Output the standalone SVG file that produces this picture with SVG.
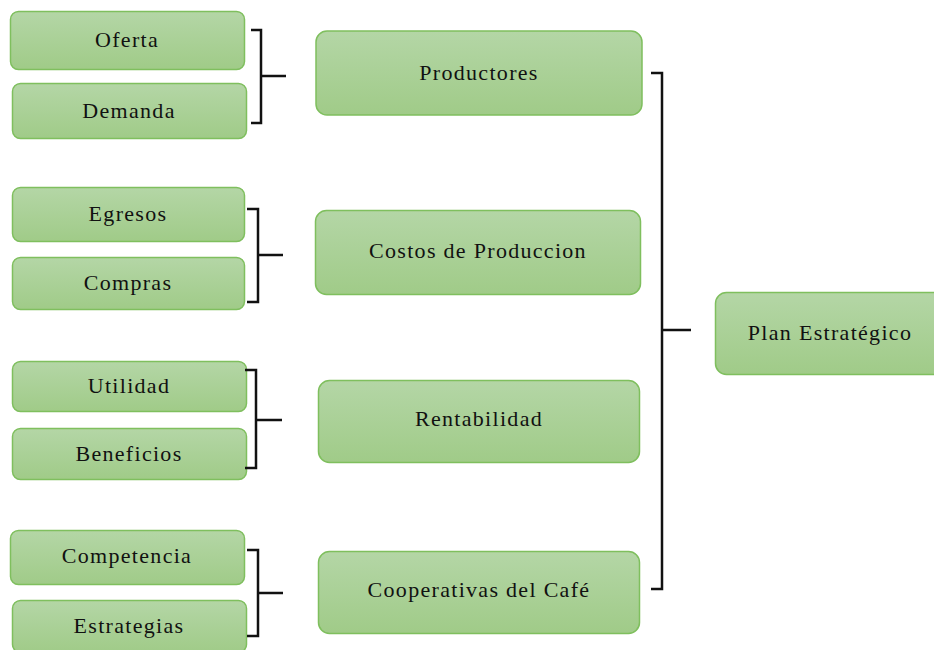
<svg xmlns="http://www.w3.org/2000/svg" width="934" height="650" viewBox="0 0 934 650">
<defs>
<linearGradient id="g" x1="0" y1="0" x2="0" y2="1">
<stop offset="0" stop-color="#b4d6a6"/>
<stop offset="1" stop-color="#a0cb88"/>
</linearGradient>
<style>
.box{fill:url(#g);stroke:#7fbf5e;stroke-width:1.5}
.t{font-family:"Liberation Serif","Times New Roman",serif;font-size:22px;letter-spacing:1.3px;fill:#111;text-anchor:middle;dominant-baseline:central}
.c{fill:none;stroke:#111;stroke-width:2.5}
</style>
</defs>
<rect width="934" height="650" fill="#fff"/>
<g id="oferta"><rect class="box" x="10.5" y="11.5" width="234" height="58" rx="8"/><text class="t" x="127" y="39.5">Oferta</text></g>
<g id="demanda"><rect class="box" x="12.5" y="83.5" width="234" height="55" rx="8"/><text class="t" x="129" y="110.5">Demanda</text></g>
<g id="productores"><rect class="box" x="316" y="31" width="326" height="84" rx="11"/><text class="t" x="479" y="72.5">Productores</text></g>
<g id="egresos"><rect class="box" x="12.5" y="187.5" width="232" height="54" rx="8"/><text class="t" x="128" y="213.5">Egresos</text></g>
<g id="compras"><rect class="box" x="12.5" y="257.5" width="232" height="52" rx="8"/><text class="t" x="128" y="282.5">Compras</text></g>
<g id="costos"><rect class="box" x="315.5" y="210.5" width="325" height="84" rx="11"/><text class="t" x="478" y="250.5">Costos de Produccion</text></g>
<g id="utilidad"><rect class="box" x="12.5" y="361.5" width="234" height="50" rx="8"/><text class="t" x="129" y="385.5">Utilidad</text></g>
<g id="beneficios"><rect class="box" x="12.5" y="428.5" width="234" height="51" rx="8"/><text class="t" x="129" y="453.5">Beneficios</text></g>
<g id="rentabilidad"><rect class="box" x="318.5" y="380.5" width="321" height="82" rx="11"/><text class="t" x="479" y="418.5">Rentabilidad</text></g>
<g id="competencia"><rect class="box" x="10.5" y="530.5" width="234" height="54" rx="8"/><text class="t" x="127" y="555.5">Competencia</text></g>
<g id="estrategias"><rect class="box" x="12.5" y="600.5" width="234" height="52" rx="8"/><text class="t" x="129" y="625.5">Estrategias</text></g>
<g id="cooperativas"><rect class="box" x="318.5" y="551.5" width="321" height="82" rx="11"/><text class="t" x="479" y="589.5">Cooperativas del Café</text></g>
<g id="plan"><rect class="box" x="715.5" y="292.5" width="230" height="82" rx="11"/><text class="t" x="830" y="332.5">Plan Estratégico</text></g>
<g id="connectors">
<path class="c" d="M251 30 H261 V123 H251 M261 76 H286"/>
<path class="c" d="M247 209 H258 V302 H247 M258 255 H283"/>
<path class="c" d="M245 370 H256 V468 H245 M256 420 H282"/>
<path class="c" d="M247 550 H258 V636 H247 M258 593 H283"/>
<path class="c" d="M651 73 H662 V589 H651 M662 330 H691"/>
</g>
</svg>
